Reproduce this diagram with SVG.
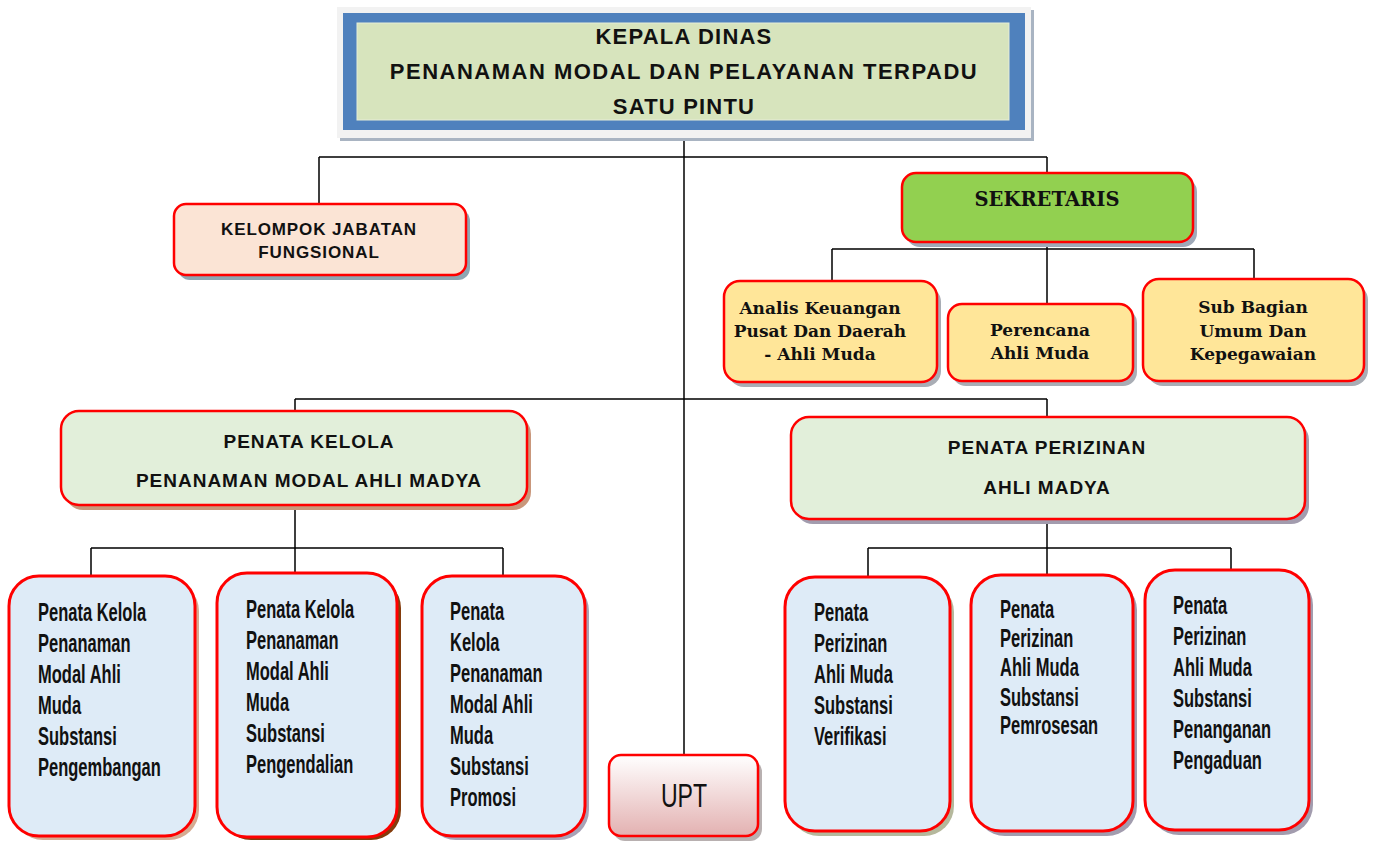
<svg xmlns="http://www.w3.org/2000/svg" width="1373" height="841" viewBox="0 0 1373 841">
<defs>
<linearGradient id="uptGrad" x1="0" y1="0" x2="0" y2="1">
<stop offset="0" stop-color="#ffffff"/>
<stop offset="1" stop-color="#e3b1b1"/>
</linearGradient>
</defs>
<style>
.box{stroke:#ff0000;stroke-width:2.5}
.bx{stroke:#ff0000;stroke-width:3;fill:#deebf7}
.cn{stroke:#000;stroke-width:1.5;fill:none}
.hd{font-family:"Liberation Sans",Arial,sans-serif;font-weight:bold;fill:#111;text-anchor:middle}
.sr{font-family:"DejaVu Serif","Liberation Serif",serif;font-weight:bold;fill:#111;text-anchor:middle}
.cd{font-family:"Liberation Sans",Arial,sans-serif;font-weight:bold;font-size:26px;fill:#111}
</style>
<rect width="1373" height="841" fill="#ffffff"/>

<g id="connectors">
<path class="cn" d="M684 138V755"/>
<path class="cn" d="M319 157H1047M319 157V204M1047 157V173"/>
<path class="cn" d="M1047 242V304M832 249H1254M832 249V281M1254 249V279"/>
<path class="cn" d="M295 399H1047M295 399V411M1047 399V417"/>
<path class="cn" d="M295 505V573M91 548H503M91 548V576M503 548V576"/>
<path class="cn" d="M1047 519V575M868 548H1231M868 548V577M1231 548V570"/>
</g>

<g id="kepala">
<rect x="340" y="10" width="694" height="131" fill="#a9b4c2"/>
<rect x="337" y="7" width="694" height="131" fill="#f2f2f2"/>
<rect x="343" y="13" width="682" height="117" fill="#4f81bd"/>
<rect x="357" y="23" width="652" height="97" fill="#d7e4bd" stroke="#e6edd8" stroke-width="1"/>
<text class="hd" x="684" y="44" font-size="22" letter-spacing="1.2">KEPALA DINAS</text>
<text class="hd" x="684" y="79" font-size="22" letter-spacing="1.5">PENANAMAN MODAL DAN PELAYANAN TERPADU</text>
<text class="hd" x="684" y="114" font-size="22" letter-spacing="1.2">SATU PINTU</text>
</g>

<g id="kjf">
<rect x="178" y="209" width="292" height="71" rx="12" fill="#8ea6b2"/>
<rect class="box" x="174" y="204" width="292" height="71" rx="12" fill="#fbe4d5"/>
<text class="hd" x="319" y="235" font-size="17" letter-spacing="0.9">KELOMPOK JABATAN</text>
<text class="hd" x="319" y="258" font-size="17" letter-spacing="0.9">FUNGSIONAL</text>
</g>

<g id="sekretaris">
<rect x="906" y="178" width="291" height="69" rx="14" fill="#9fa9b8"/>
<rect class="box" x="902" y="173" width="291" height="69" rx="14" fill="#92d050"/>
<text class="sr" x="1047" y="206" font-size="19.5">SEKRETARIS</text>
</g>

<g id="analis">
<rect x="728" y="286" width="213" height="101" rx="16" fill="#a9adb5"/>
<rect class="box" x="724" y="281" width="213" height="101" rx="16" fill="#ffe699"/>
<text class="sr" x="820" y="314" font-size="17">Analis Keuangan</text>
<text class="sr" x="820" y="337" font-size="17">Pusat Dan Daerah</text>
<text class="sr" x="820" y="360" font-size="17">- Ahli Muda</text>
</g>

<g id="perencana">
<rect x="952" y="309" width="185" height="77" rx="14" fill="#a9adb5"/>
<rect class="box" x="948" y="304" width="185" height="77" rx="14" fill="#ffe699"/>
<text class="sr" x="1040" y="336" font-size="17">Perencana</text>
<text class="sr" x="1040" y="359" font-size="17">Ahli Muda</text>
</g>

<g id="subbagian">
<rect x="1147" y="284" width="221" height="102" rx="16" fill="#a9adb5"/>
<rect class="box" x="1143" y="279" width="221" height="102" rx="16" fill="#ffe699"/>
<text class="sr" x="1253" y="313" font-size="17">Sub Bagian</text>
<text class="sr" x="1253" y="337" font-size="17">Umum Dan</text>
<text class="sr" x="1253" y="360" font-size="17">Kepegawaian</text>
</g>

<g id="penata-kelola">
<rect x="65" y="416" width="466" height="94" rx="18" fill="#c9977b"/>
<rect class="box" x="61" y="411" width="466" height="94" rx="18" fill="#e2efda"/>
<text class="hd" x="309" y="448" font-size="19" letter-spacing="1">PENATA KELOLA</text>
<text class="hd" x="309" y="487" font-size="19" letter-spacing="1">PENANAMAN MODAL AHLI MADYA</text>
</g>

<g id="penata-perizinan">
<rect x="795" y="422" width="514" height="102" rx="18" fill="#a29cae"/>
<rect class="box" x="791" y="417" width="514" height="102" rx="18" fill="#e2efda"/>
<text class="hd" x="1047" y="454" font-size="19" letter-spacing="1">PENATA PERIZINAN</text>
<text class="hd" x="1047" y="494" font-size="19" letter-spacing="1">AHLI MADYA</text>
</g>

<g id="pk-pengembangan">
<rect x="13" y="581" width="186" height="259" rx="30" fill="#d6ab92"/>
<rect class="bx" x="9" y="576" width="186" height="260" rx="30"/>
<g class="cd" transform="translate(38,0) scale(0.635,1)">
<text x="0" y="621">Penata Kelola</text>
<text x="0" y="652">Penanaman</text>
<text x="0" y="683">Modal Ahli</text>
<text x="0" y="714">Muda</text>
<text x="0" y="745">Substansi</text>
<text x="0" y="776">Pengembangan</text>
</g>
</g>

<g id="pk-pengendalian">
<rect x="221" y="578" width="180" height="262" rx="30" fill="#843c0c"/>
<rect class="bx" x="217" y="573" width="180" height="264" rx="30"/>
<g class="cd" transform="translate(246,0) scale(0.635,1)">
<text x="0" y="618">Penata Kelola</text>
<text x="0" y="649">Penanaman</text>
<text x="0" y="680">Modal Ahli</text>
<text x="0" y="711">Muda</text>
<text x="0" y="742">Substansi</text>
<text x="0" y="773">Pengendalian</text>
</g>
</g>

<g id="pk-promosi">
<rect x="426" y="581" width="163" height="259" rx="30" fill="#a8a2b6"/>
<rect class="bx" x="422" y="576" width="163" height="260" rx="30"/>
<g class="cd" transform="translate(450,0) scale(0.635,1)">
<text x="0" y="620">Penata</text>
<text x="0" y="651">Kelola</text>
<text x="0" y="682">Penanaman</text>
<text x="0" y="713">Modal Ahli</text>
<text x="0" y="744">Muda</text>
<text x="0" y="775">Substansi</text>
<text x="0" y="806">Promosi</text>
</g>
</g>

<g id="upt">
<rect x="613" y="760" width="149" height="81" rx="12" fill="#b8b0b0"/>
<rect class="box" x="609" y="755" width="149" height="81" rx="12" fill="url(#uptGrad)"/>
<text x="0" y="807" transform="translate(684,0) scale(0.7,1)" font-family="Liberation Sans,Arial,sans-serif" font-size="33" fill="#111" text-anchor="middle">UPT</text>
</g>

<g id="pp-verifikasi">
<rect x="789" y="582" width="165" height="254" rx="30" fill="#b5b89c"/>
<rect class="bx" x="785" y="577" width="165" height="254" rx="30"/>
<g class="cd" transform="translate(814,0) scale(0.635,1)">
<text x="0" y="621">Penata</text>
<text x="0" y="652">Perizinan</text>
<text x="0" y="683">Ahli Muda</text>
<text x="0" y="714">Substansi</text>
<text x="0" y="745">Verifikasi</text>
</g>
</g>

<g id="pp-pemrosesan">
<rect x="975" y="580" width="162" height="256" rx="30" fill="#a29cae"/>
<rect class="bx" x="971" y="575" width="162" height="256" rx="30"/>
<g class="cd" transform="translate(1000,0) scale(0.635,1)">
<text x="0" y="618">Penata</text>
<text x="0" y="647">Perizinan</text>
<text x="0" y="676">Ahli Muda</text>
<text x="0" y="706">Substansi</text>
<text x="0" y="734">Pemrosesan</text>
</g>
</g>

<g id="pp-pengaduan">
<rect x="1149" y="575" width="164" height="260" rx="30" fill="#a29cae"/>
<rect class="bx" x="1145" y="570" width="164" height="260" rx="30"/>
<g class="cd" transform="translate(1173,0) scale(0.635,1)">
<text x="0" y="614">Penata</text>
<text x="0" y="645">Perizinan</text>
<text x="0" y="676">Ahli Muda</text>
<text x="0" y="707">Substansi</text>
<text x="0" y="738">Penanganan</text>
<text x="0" y="769">Pengaduan</text>
</g>
</g>
</svg>
